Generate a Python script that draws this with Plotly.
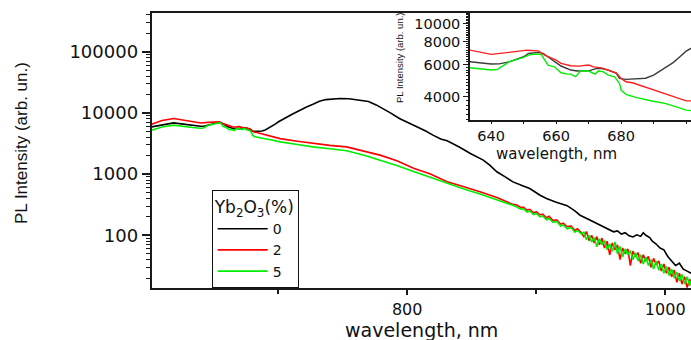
import plotly.graph_objects as go

# ---------------- data ----------------
wl_0 = [602, 610, 619, 628, 633.5, 640, 642.5, 645.5, 648, 650, 651.5, 654.5, 656, 658, 660,
        661.5, 664.5, 666.5, 670, 672.5, 674, 676, 678.5, 679.5, 681.5, 683.5, 685.5, 687.5,
        690, 692, 694, 696, 698, 700, 704, 708, 712, 717, 722, 727, 732, 737, 742, 748, 755,
        763, 770, 776, 781, 787, 794, 800, 807, 814, 820, 826, 831, 840, 849, 859, 864, 869.5,
        876, 882, 889, 895, 903, 908, 915, 920, 924, 930, 934, 940, 945, 950, 953, 956, 960,
        963, 966, 969, 972, 975, 978, 981, 983, 985, 988, 990, 993, 996, 999, 1002, 1005,
        1008, 1011, 1014, 1017, 1020]
int_0 = [5900, 6400, 6870, 6500, 6210, 6040, 6050, 6210, 6400, 6620, 6900, 6990, 6900, 6500, 6090,
         5890, 5600, 5530, 5540, 5720, 5700, 5600, 5370, 5040, 4980, 4990, 5010, 5050,
         5250, 5550, 5850, 6150, 6600, 7100, 7800, 8800, 9780, 11200, 12500, 13800, 15500, 16500,
         17000, 17200, 17000, 16300, 15300, 13500, 11900, 10000, 8100, 7100, 6070, 5100, 4330,
         3750, 3500, 2800, 2170, 1690, 1400, 1090, 900, 746, 650, 582, 452, 400, 350, 325, 305,
         250, 213, 185, 165, 145, 135, 128, 114, 118, 105, 110, 98, 94, 102, 96, 110, 100, 92,
         80, 72, 62, 58, 45, 38, 32, 35, 28, 26, 24]

wl_2 = [602, 610, 619, 628, 633.5, 640, 645.5, 650, 651, 654.5, 656.5, 660, 661.5, 664.5, 667,
        670, 671.5, 674, 676, 678.5, 680, 681.5, 683.5, 686.5, 691.5, 696.5, 700, 701.5, 715,
        727, 740, 753, 766, 779, 792, 805, 818, 831, 844, 857, 870, 882, 885, 888, 890, 893,
        895, 898, 900, 903, 905, 908, 910, 913, 916, 919, 921, 924, 927, 930, 932, 935, 937,
        939, 941, 943, 945, 947, 949, 951, 953, 955, 957, 959, 961, 963, 965, 967, 969, 971,
        973, 975, 977, 979, 981, 983, 985, 987, 989, 991, 993, 995, 997, 999, 1001, 1003,
        1005, 1007, 1009, 1011, 1013, 1015, 1017, 1019, 1020]
int_2 = [6540, 7500, 8100, 7500, 7190, 6820, 6990, 7110, 7190, 7130, 6760, 6350, 6090, 5910, 5880,
         5960, 5830, 5750, 5600, 5410, 5040, 4830, 4770, 4580, 4260, 4000, 3800, 3800, 3450,
         3160, 2950, 2780, 2400, 2040, 1650, 1250, 1000, 750, 620, 512, 410, 320, 312, 285, 290,
         258, 266, 232, 244, 215, 222, 193, 204, 174, 178, 152, 158, 138, 142, 120, 128, 110, 95,
         115, 82, 100, 75, 95, 70, 90, 62, 80, 48, 75, 58, 70, 40, 62, 50, 60, 32, 55, 45, 52,
         35, 48, 38, 45, 30, 42, 33, 38, 26, 34, 24, 30, 21, 27, 17, 24, 16, 21, 14, 19, 17]

wl_5 = [602, 610, 619, 628, 633.5, 640, 642, 645.5, 650, 651.5, 653.5, 655.5, 656.5, 657.5, 659.5,
        661.5, 663.5, 664.5, 666, 667.5, 670, 672, 673, 674.5, 676, 678, 679.5, 680, 681.5,
        684.5, 689.5, 693.5, 697.5, 700, 701.5, 715, 727, 740, 753, 766, 779, 792, 805, 818,
        831, 844, 857, 870, 882, 885, 888, 890, 893, 895, 898, 900, 903, 905, 908, 910, 913,
        916, 919, 921, 924, 927, 930, 932, 935, 937, 939, 941, 943, 945, 947, 949, 951, 953,
        955, 957, 959, 961, 963, 965, 967, 969, 971, 973, 975, 977, 979, 981, 983, 985, 987,
        989, 991, 993, 995, 997, 999, 1001, 1003, 1005, 1007, 1009, 1011, 1013, 1015, 1017,
        1019, 1020]
int_5 = [5200, 5900, 6300, 5900, 5760, 5600, 5650, 6210, 6560, 6760, 6850, 6800, 6350, 5960, 5830,
         5410, 5320, 5320, 5150, 5540, 5530, 5320, 5530, 5480, 5250, 5140, 4730, 4350, 4120,
         3970, 3790, 3680, 3500, 3380, 3360, 3050, 2780, 2600, 2400, 2050, 1690, 1380, 1100,
         880, 700, 570, 468, 380, 309, 290, 268, 272, 240, 250, 218, 228, 200, 208, 180, 190,
         162, 168, 142, 148, 128, 134, 112, 120, 105, 112, 85, 100, 78, 92, 65, 88, 70, 82, 58,
         72, 55, 78, 50, 66, 44, 60, 48, 56, 40, 52, 38, 48, 34, 44, 32, 40, 28, 38, 27, 34, 24,
         31, 22, 28, 20, 25, 18, 23, 16, 21, 15, 18]

series_names = ["0", "2", "5"]
main_ticks_x = [800, 1000]
main_ticks_y = [100, 1000, 10000, 100000]
main_ticktext_y = ["100", "1000", "10000", "100000"]
inset_ticks_x = [640, 660, 680, 700]
inset_ticks_y = [4000, 6000, 8000, 10000]
inset_ticktext_y = ["4000", "6000", "8000", "10000"]

# ---------------- figure ----------------
W, H = 691, 340
AX = "#1a1a1a"
TICKFONT = "DejaVu Sans"
TITLEFONT = "Liberation Sans"

fig = go.Figure()
colors_main = ["#000000", "#ff0000", "#00ee00"]
colors_inset = ["#3c3c3c", "#ff2020", "#00ee00"]
data = [(wl_0, int_0), (wl_2, int_2), (wl_5, int_5)]

for (wx, wy), name, c in zip(data, series_names, colors_main):
    fig.add_trace(go.Scatter(x=wx, y=wy, mode="lines", name=name,
                             line=dict(color=c, width=1.6), xaxis="x", yaxis="y"))
for (wx, wy), name, c in zip(data, series_names, colors_inset):
    fig.add_trace(go.Scatter(x=wx, y=wy, mode="lines", name=name, showlegend=False,
                             line=dict(color=c, width=1.4), xaxis="x2", yaxis="y2"))

minor_main_y = [m * 10 ** e for e in range(1, 6) for m in range(2, 10)]
minor_inset_y = list(range(3000, 11600, 200))

fig.update_layout(
    width=W, height=H, margin=dict(l=0, r=0, t=0, b=0),
    paper_bgcolor="white", plot_bgcolor="white",
    xaxis=dict(domain=[151.7 / W, 1.0], range=[602, 1020], anchor="y",
               tickmode="array", tickvals=main_ticks_x, ticks="outside", ticklen=5,
               tickwidth=1.5, tickcolor=AX, showline=True, linecolor=AX, linewidth=2,
               mirror=True, showgrid=False, zeroline=False,
               minor=dict(tickmode="array", tickvals=[700, 900], ticks="outside",
                          ticklen=4, tickwidth=1.5, tickcolor=AX, showgrid=False),
               tickfont=dict(family=TICKFONT, size=16, color="#111")),
    yaxis=dict(domain=[1 - 288.3 / H, 1 - 13 / H], type="log", range=[1.134, 5.632],
               anchor="x", tickmode="array", tickvals=main_ticks_y, ticktext=main_ticktext_y,
               ticks="outside", ticklen=8, tickwidth=1.5, tickcolor=AX,
               showline=True, linecolor=AX, linewidth=2, showgrid=False, zeroline=False,
               minor=dict(tickmode="array", tickvals=minor_main_y, ticks="outside",
                          ticklen=4, tickwidth=1.2, tickcolor=AX, showgrid=False),
               tickfont=dict(family=TICKFONT, size=18, color="#111")),
    xaxis2=dict(domain=[470 / W, 1.0], range=[633.5, 701.5], anchor="y2",
                tickmode="array", tickvals=inset_ticks_x, ticks="outside", ticklen=2,
                tickwidth=1.2, tickcolor=AX, showline=True, linecolor=AX, linewidth=1.5,
                showgrid=False, zeroline=False,
                minor=dict(tickmode="array", tickvals=[650, 670, 690], ticks="outside",
                           ticklen=2, tickcolor=AX, showgrid=False),
                tickfont=dict(family=TICKFONT, size=14.5, color="#111")),
    yaxis2=dict(domain=[1 - 120 / H, 1 - 13 / H], type="log", range=[3.475, 4.06],
                anchor="x2", tickmode="array", tickvals=inset_ticks_y,
                ticktext=inset_ticktext_y, ticks="outside", ticklen=5, tickwidth=1.2,
                tickcolor=AX, showline=True, linecolor=AX, linewidth=1.5,
                showgrid=False, zeroline=False,
                minor=dict(tickmode="array", tickvals=minor_inset_y, ticks="outside",
                           ticklen=2, tickwidth=0.8, tickcolor=AX, showgrid=False),
                tickfont=dict(family=TICKFONT, size=14.5, color="#111")),
    legend=dict(x=211.7 / W, y=1 - 190 / H, xanchor="left", yanchor="top",
                bgcolor="white", bordercolor="#111", borderwidth=1,
                font=dict(family=TICKFONT, size=14, color="#111"),
                title=dict(text="Yb<sub>2</sub>O<sub>3</sub>(%)",
                           font=dict(family=TICKFONT, size=17, color="#111")),
                tracegroupgap=0, itemwidth=50),
    showlegend=True,
    annotations=[
        dict(text="wavelength, nm", xref="paper", yref="paper", x=421.6 / W, y=1 - 329.5 / H,
             xanchor="center", yanchor="middle", showarrow=False,
             font=dict(family=TICKFONT, size=19, color="#111")),
        dict(text="PL Intensity (arb. un.)", xref="paper", yref="paper", x=21.7 / W,
             y=1 - 143.3 / H, xanchor="center", yanchor="middle", showarrow=False,
             textangle=-90,
             font=dict(family=TITLEFONT, size=17, color="#111")),
        dict(text="wavelength, nm", xref="paper", yref="paper", x=556 / W, y=1 - 154 / H,
             xanchor="center", yanchor="middle", showarrow=False,
             font=dict(family=TICKFONT, size=15, color="#111")),
        dict(text="PL Intensity (arb. un.)", xref="paper", yref="paper", x=399 / W,
             y=1 - 58 / H, xanchor="center", yanchor="middle", showarrow=False,
             textangle=-90,
             font=dict(family=TITLEFONT, size=9.5, color="#111")),
    ],
)

fig.write_html("out.html")
